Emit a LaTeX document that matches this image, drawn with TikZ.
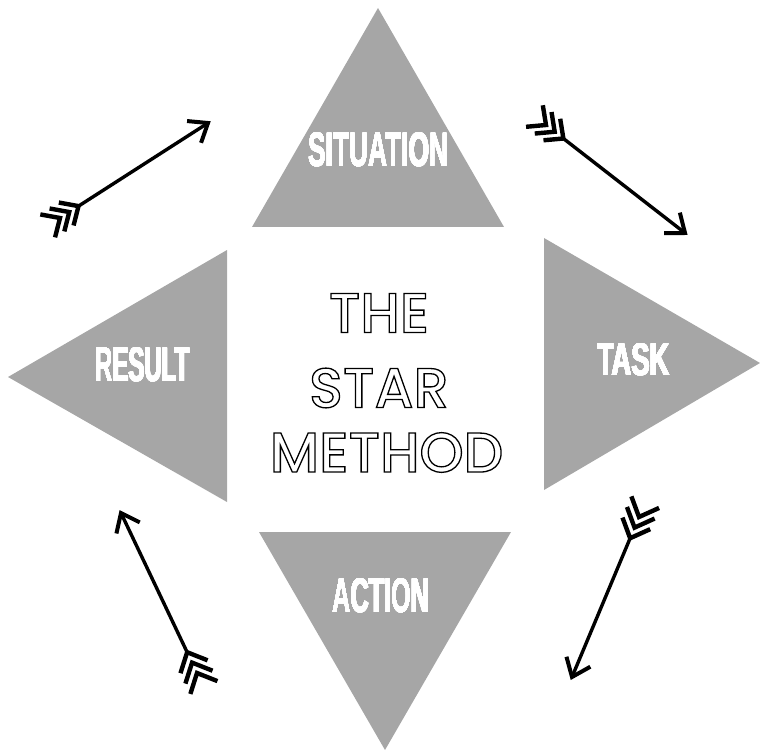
\documentclass[tikz,border=0pt]{standalone}
\usepackage{fontspec}
\usepackage{contour}
\usetikzlibrary{calc}
\setmainfont{Liberation Sans}
\newfontfamily\starfont{Poppins Medium}
\contournumber{24}
\definecolor{trigray}{HTML}{A6A6A6}
\tikzset{
  tri/.style={fill=trigray, draw=none},
  lbl/.style={text=white, inner sep=0pt, font=\bfseries},
  ttl/.style={text=black, inner sep=0pt, font=\starfont\fontsize{56}{56}\selectfont},
  shaft/.style={line width=3.4pt, line cap=butt},
  headline/.style={line width=4pt, line join=miter},
  fletch/.style={line width=4.4pt, line join=miter},
}
\newcommand{\heavy}[3]{\contour{white}{\resizebox{#1}{#2}{#3}}}
\newcommand{\outlined}[1]{\special{pdf:literal direct 1 Tr 1.3 w}#1\special{pdf:literal direct 0 Tr 0.4 w}}
\newcommand{\fancyarrow}[4]{%
  \draw[shaft] ($(#1)!{2*#3}!(#2)$) -- (#2);
  \draw[headline] ($(#2)!21pt!38:(#1)$) -- (#2) -- ($(#2)!21pt!-38:(#1)$);
  \foreach \k in {0,1,2}{
    \coordinate (v) at ($(#1)!{\k*#3}!(#2)$);
    \draw[fletch] ($(v)!#4!137:(#2)$) -- (v) -- ($(v)!#4!-137:(#2)$);
  }
}
\begin{document}
\begin{tikzpicture}[x=1pt, y=-1pt]
\useasboundingbox (0,0) rectangle (760,751);
% triangles
\fill[tri] (378,8) -- (504,227) -- (252,227) -- cycle;
\fill[tri] (544,238) -- (760,363) -- (544,490) -- cycle;
\fill[tri] (227,250) -- (8,377) -- (227,502) -- cycle;
\fill[tri] (259,532) -- (511,532) -- (385,750) -- cycle;
% labels
\contourlength{0.3pt}
\node[lbl] (sit) at (378.5,150) {\heavy{140pt}{33pt}{SITUATION}};
\node[lbl] (task) at (633.5,360) {\heavy{72pt}{32pt}{TASK}};
\node[lbl] (res) at (142.5,365) {\heavy{94pt}{34pt}{RESULT}};
\node[lbl] (act) at (381,596) {\heavy{97pt}{34pt}{ACTION}};
% title
\node[ttl] (the) at (379,313) {\outlined{THE}};
\node[ttl] (star) at (379,388) {\outlined{STAR}};
\node[ttl] (meth) at (386.5,452.5) {\outlined{METHOD}};
% arrows
\coordinate (a1t) at (60,218);  \coordinate (a1h) at (208,123);
\coordinate (a2t) at (546,125); \coordinate (a2h) at (685,233);
\coordinate (a3t) at (197,673); \coordinate (a3h) at (121,513);
\coordinate (a4t) at (639,517); \coordinate (a4h) at (572,677);
\fancyarrow{a1t}{a1h}{11pt}{20pt}
\fancyarrow{a2t}{a2h}{11pt}{20pt}
\fancyarrow{a3t}{a3h}{11.5pt}{22pt}
\fancyarrow{a4t}{a4h}{11.5pt}{22pt}
\end{tikzpicture}
\end{document}
